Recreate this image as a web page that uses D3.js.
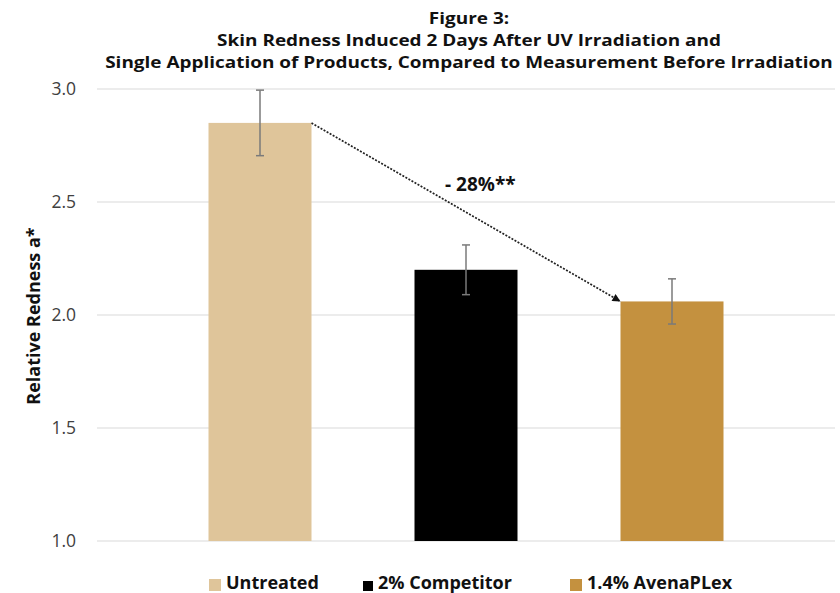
<!DOCTYPE html>
<html>
<head>
<meta charset="utf-8">
<script src="https://cdn.jsdelivr.net/npm/d3@7"></script>
<style>
  html, body { margin: 0; padding: 0; background: #fff; }
  svg { display: block; font-family: "Open Sans", sans-serif; }
</style>
</head>
<body>
<svg id="chart" width="840" height="593"></svg>
<script>
const categories = ["Untreated", "2% Competitor", "1.4% AvenaPLex"];
const values = [2.85, 2.20, 2.06];
const errors = [0.145, 0.11, 0.10];
const colors = ["#dfc59a", "#000000", "#c4913f"];
const yTicks = [1.0, 1.5, 2.0, 2.5, 3.0];
const titleLines = ["Figure 3:", "Skin Redness Induced 2 Days After UV Irradiation and", "Single Application of Products, Compared to Measurement Before Irradiation"];
const yLabel = "Relative Redness a*";
const annotation = "- 28%**";

const svg = d3.select("#chart");

const plotLeft = 97, plotRight = 835;
const y = d3.scaleLinear().domain([1.0, 3.0]).range([541, 89]);
const x = d3.scaleBand().domain(categories).range([157, 775]).paddingInner(0.5).paddingOuter(0.25);

// Title (slightly widened horizontally, like the reference)
const titleG = svg.append("g").attr("transform", "translate(469,0) scale(1.17,1)");
const titleY = [24, 46, 68];
titleLines.forEach((t, i) => {
  titleG.append("text").attr("x", 0).attr("y", titleY[i]).attr("text-anchor", "middle")
    .attr("font-weight", 700).attr("font-size", 16.2).attr("fill", "#111").text(t);
});

// Gridlines
svg.append("g").selectAll("line").data(yTicks).join("line")
  .attr("x1", plotLeft).attr("x2", plotRight)
  .attr("y1", d => y(d)).attr("y2", d => y(d))
  .attr("stroke", "#d9d9d9").attr("stroke-width", 1.2);

// Y axis labels
const yAxis = d3.axisLeft(y).tickValues(yTicks).tickFormat(d3.format(".1f")).tickSize(0).tickPadding(0);
const ya = svg.append("g").attr("transform", "translate(76,0)").call(yAxis);
ya.select(".domain").remove();
ya.selectAll("text").attr("font-size", 17.5).attr("fill", "#404040")
  .attr("font-family", "Open Sans, sans-serif");

// Y axis title
svg.append("text").attr("transform", "translate(40,316) rotate(-90)")
  .attr("text-anchor", "middle").attr("font-weight", 700).attr("font-size", 18)
  .attr("fill", "#111").text(yLabel);

// Bars
const data = categories.map((c, i) => ({ c, v: values[i], e: errors[i], col: colors[i] }));
svg.append("g").selectAll("rect").data(data).join("rect")
  .attr("x", d => x(d.c)).attr("width", x.bandwidth())
  .attr("y", d => y(d.v)).attr("height", d => y(1.0) - y(d.v))
  .attr("fill", d => d.col);

// Error bars
const eg = svg.append("g").attr("stroke", "#7a7a7a").attr("stroke-width", 1.5);
data.forEach(d => {
  const cx = x(d.c) + x.bandwidth() / 2;
  eg.append("line").attr("x1", cx).attr("x2", cx).attr("y1", y(d.v + d.e)).attr("y2", y(d.v - d.e));
  eg.append("line").attr("x1", cx - 4).attr("x2", cx + 4).attr("y1", y(d.v + d.e)).attr("y2", y(d.v + d.e));
  eg.append("line").attr("x1", cx - 4).attr("x2", cx + 4).attr("y1", y(d.v - d.e)).attr("y2", y(d.v - d.e));
});

// Arrow annotation
svg.append("defs").append("marker").attr("id", "arrow")
  .attr("viewBox", "0 0 10 10").attr("refX", 10).attr("refY", 5)
  .attr("markerWidth", 10).attr("markerHeight", 8).attr("markerUnits", "userSpaceOnUse")
  .attr("orient", "auto")
  .append("path").attr("d", "M0,0 L10,5 L0,10 Z").attr("fill", "#111");

const x0 = x(categories[0]) + x.bandwidth(), y0 = y(values[0]);
const x1 = x(categories[2]), y1 = y(values[2]);
svg.append("line").attr("x1", x0).attr("y1", y0).attr("x2", x1).attr("y2", y1)
  .attr("stroke", "#222").attr("stroke-width", 1.7).attr("stroke-dasharray", "2,1.5")
  .attr("marker-end", "url(#arrow)");

svg.append("text").attr("x", 445).attr("y", 191).attr("font-weight", 700)
  .attr("font-size", 19).attr("fill", "#111").text(annotation);

// Legend
const legendX = [209, 363, 570];
const lg = svg.append("g");
data.forEach((d, i) => {
  const s = i === 1 ? 10 : 12;
  lg.append("rect").attr("x", legendX[i]).attr("y", 591 - s).attr("width", s).attr("height", s).attr("fill", d.col);
  lg.append("text").attr("x", legendX[i] + s + 5).attr("y", 589).attr("font-weight", 700)
    .attr("font-size", 18).attr("fill", "#111").text(d.c);
});
</script>
</body>
</html>
